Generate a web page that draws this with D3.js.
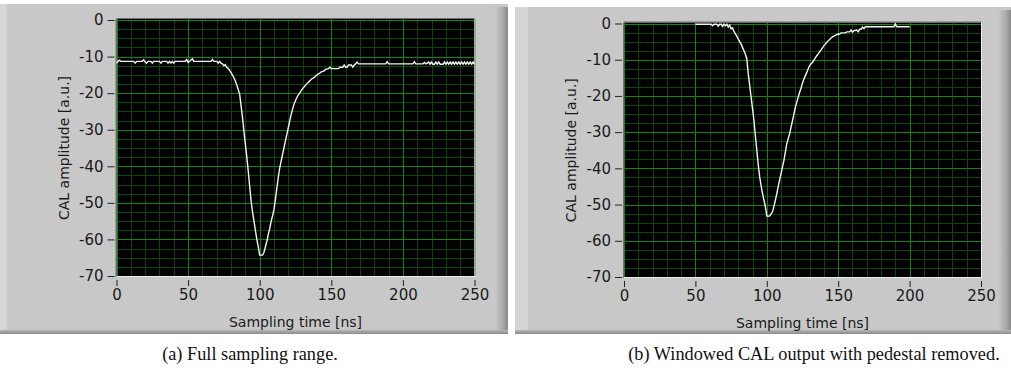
<!DOCTYPE html>
<html><head><meta charset="utf-8">
<script src="https://cdn.jsdelivr.net/npm/d3@7"></script>
<style>body{margin:0;background:#fff}svg{display:block}</style>
</head><body>
<script>
// ---- data ----
const xTicks = [0, 50, 100, 150, 200, 250];
const yTicks = [0, -10, -20, -30, -40, -50, -60, -70];
const xLabel = "Sampling time [ns]";
const yLabel = "CAL amplitude [a.u.]";
const captionA = "(a) Full sampling range.";
const captionB = "(b) Windowed CAL output with pedestal removed.";

// (a) full sampling range: time [ns] and amplitude
const timeA = [0,1,2,3,10,12,13,14,18,19,20,21,22,24,25,26,30,31,32,35,36,37,38,39,40,41,48,49,50,51,53,54,66,67,68,70,71,72,73,74,75,76,77,78,79,80,82,83,84,85,86,87,88,89,90,91,92,93,94,95,96,97,98,99,100,102,103,104,105,106,107,108,109,110,111,112,113,114,115,116,117,118,119,120,121,122,123,124,125,126,127,128,129,130,131,132,133,134,136,138,140,142,143,145,146,148,149,150,155,156,158,159,160,161,162,164,165,166,167,168,169,188,189,190,207,208,209,214,215,216,218,219,220,221,222,223,224,225,226,228,229,230,231,232,233,234,235,236,237,238,239,240,241,242,243,244,245,246,247,248,249,250];
const ampA = [-11.8,-11.3,-11.0,-11.3,-11.3,-11.3,-11.8,-11.3,-11.3,-10.9,-11.5,-11.8,-11.3,-11.3,-11.8,-11.3,-11.3,-11.8,-11.3,-11.3,-11.8,-11.3,-11.8,-11.3,-11.8,-11.3,-11.3,-10.8,-11.6,-11.3,-10.6,-11.3,-11.3,-10.8,-11.3,-11.3,-11.8,-11.3,-11.8,-12.0,-12.5,-12.2,-13.0,-13.2,-13.8,-14.4,-15.8,-16.7,-17.8,-19.0,-20.3,-23.5,-26.7,-30.5,-34.0,-37.5,-41.3,-45.5,-49.5,-52.5,-55.0,-57.5,-60.0,-62.0,-64.3,-64.3,-63.5,-62.0,-60.5,-58.6,-57.0,-55.0,-53.5,-51.8,-49.0,-45.9,-43.0,-40.4,-38.5,-36.7,-34.8,-33.0,-31.2,-29.4,-27.5,-25.8,-24.3,-23.0,-22.0,-21.2,-20.5,-19.9,-19.3,-18.7,-18.3,-17.8,-17.4,-17.0,-16.2,-15.7,-15.0,-14.5,-14.2,-13.9,-13.5,-13.3,-12.9,-13.3,-13.3,-12.9,-12.9,-12.3,-12.9,-12.9,-12.3,-12.3,-12.9,-12.3,-12.0,-11.5,-12.0,-12.0,-11.4,-12.0,-12.0,-11.4,-12.0,-12.0,-11.6,-12.0,-11.5,-12.1,-11.5,-12.1,-12.1,-11.5,-12.1,-11.5,-12.1,-12.1,-11.5,-12.1,-11.5,-12.1,-11.5,-12.1,-11.5,-12.1,-11.5,-12.1,-11.5,-12.1,-11.5,-12.1,-11.5,-12.1,-11.5,-12.1,-11.5,-12.1,-11.5,-12.1,-11.6,-12.0];

// (b) windowed output, pedestal removed
const timeB = [50,61,62,63,65,66,67,68,69,70,71,72,73,74,75,76,77,78,79,80,81,82,83,84,85,86,87,88,89,90,91,92,93,94,95,96,97,98,99,100,102,103,104,105,106,107,108,109,110,111,112,113,114,115,116,117,118,119,120,121,122,123,124,125,126,127,128,129,130,131,132,133,134,135,136,137,138,139,140,141,142,143,144,145,146,148,150,151,152,155,156,158,159,160,161,163,164,165,166,167,168,169,170,189,190,191,200];
const ampB = [-0.2,-0.2,-0.6,-0.2,-0.2,-0.7,-0.2,-0.2,-0.8,-0.2,-0.6,-0.2,-1.0,-0.4,-1.5,-1.2,-2.2,-2.9,-3.5,-4.3,-5.0,-5.7,-6.6,-7.5,-8.5,-9.8,-13.9,-17.0,-20.3,-23.5,-26.8,-31.0,-35.0,-39.0,-42.3,-44.8,-46.9,-48.8,-50.6,-53.2,-53.2,-52.6,-52.0,-50.5,-48.8,-47.0,-45.0,-43.2,-41.4,-39.6,-37.8,-35.5,-33.2,-31.8,-30.4,-28.6,-26.8,-25.0,-23.1,-21.7,-20.3,-19.0,-17.8,-16.5,-15.3,-14.4,-13.5,-12.5,-11.6,-11.1,-10.7,-10.1,-9.5,-8.9,-8.4,-7.8,-7.3,-6.7,-6.1,-5.7,-5.2,-4.8,-4.4,-4.0,-3.7,-3.3,-2.9,-2.9,-2.6,-2.6,-2.3,-2.3,-1.8,-2.4,-2.0,-1.8,-2.3,-1.6,-1.6,-1.0,-1.4,-0.9,-0.9,-0.9,-0.1,-0.9,-0.9];

// ---- drawing ----
const W = 1011, H = 380;
const svg = d3.select("body").append("svg").attr("width", W).attr("height", H);
const defs = svg.append("defs");
const g1 = defs.append("linearGradient").attr("id","rightBevel").attr("x1","0").attr("x2","1");
g1.append("stop").attr("offset","0").attr("stop-color","#c8c8c8");
g1.append("stop").attr("offset","0.6").attr("stop-color","#aaaaaa");
g1.append("stop").attr("offset","1").attr("stop-color","#888888");
const g2 = defs.append("linearGradient").attr("id","botBevel").attr("x1","0").attr("x2","0").attr("y1","0").attr("y2","1");
g2.append("stop").attr("offset","0").attr("stop-color","#b4b4b4");
g2.append("stop").attr("offset","1").attr("stop-color","#8c8c8c");

const sans = "'DejaVu Sans', Verdana, sans-serif";

function panel(cfg, times, amps) {
  const {px0, py0, px1, py1, left, top, right, bottom, lightW} = cfg;
  svg.append("rect").attr("x", px0).attr("y", py0).attr("width", px1 - px0).attr("height", py1 - py0).attr("fill", "#c8c8c8");
  svg.append("rect").attr("x", px0).attr("y", py0).attr("width", lightW).attr("height", py1 - py0).attr("fill", "#d6d6d6");
  svg.append("rect").attr("x", px1 - 13).attr("y", py0 + 3).attr("width", 13).attr("height", py1 - py0 - 3).attr("fill", "url(#rightBevel)");
  svg.append("rect").attr("x", px0).attr("y", py1 - 4).attr("width", px1 - px0).attr("height", 4).attr("fill", "url(#botBevel)");

  const x = d3.scaleLinear().domain([0, 250]).range([left, right]);
  const y = d3.scaleLinear().domain([-70, 0]).range([bottom, top]);

  svg.append("rect").attr("x", left).attr("y", top - 1).attr("width", right - left).attr("height", bottom - top + 1).attr("fill", "#000");

  const minorC = "#0a480a", majorC = "#0f870f";
  const grid = svg.append("g");
  const minorX = d3.range(0, 251, 10).filter(v => v % 50 !== 0);
  const minorY = d3.range(-70, 0.1, 2.5).filter(v => Math.abs(v % 10) > 0.01);
  grid.selectAll("line.mx").data(minorX).join("line")
    .attr("x1", d => Math.round(x(d)) + 0.5).attr("x2", d => Math.round(x(d)) + 0.5)
    .attr("y1", top - 1).attr("y2", bottom).attr("stroke", minorC);
  grid.selectAll("line.my").data(minorY).join("line")
    .attr("y1", d => Math.round(y(d)) + 0.5).attr("y2", d => Math.round(y(d)) + 0.5)
    .attr("x1", left).attr("x2", right).attr("stroke", minorC);
  grid.selectAll("line.Mx").data(xTicks).join("line")
    .attr("x1", d => Math.round(x(d)) + 0.5).attr("x2", d => Math.round(x(d)) + 0.5)
    .attr("y1", top - 1).attr("y2", bottom).attr("stroke", majorC);
  grid.selectAll("line.My").data(yTicks).join("line")
    .attr("y1", d => Math.round(y(d)) + 0.5).attr("y2", d => Math.round(y(d)) + 0.5)
    .attr("x1", left).attr("x2", right).attr("stroke", majorC);

  svg.append("line").attr("x1", right + 0.5).attr("x2", right + 0.5).attr("y1", top - 1).attr("y2", bottom + 1).attr("stroke", "#ececec");
  svg.append("line").attr("x1", left).attr("x2", right + 1).attr("y1", bottom + 0.5).attr("y2", bottom + 0.5).attr("stroke", "#ececec");
  svg.append("line").attr("x1", left - 0.5).attr("x2", left - 0.5).attr("y1", top - 1).attr("y2", bottom + 1).attr("stroke", "#707070");
  svg.append("line").attr("x1", left).attr("x2", right).attr("y1", top - 1.5).attr("y2", top - 1.5).attr("stroke", "#707070");

  const pts = times.map((t, i) => [t, amps[i]]);
  const line = d3.line().x(d => x(d[0])).y(d => y(d[1]));
  svg.append("path").datum(pts).attr("d", line).attr("fill", "none")
    .attr("stroke", "#f4f4f4").attr("stroke-width", 1.4).attr("stroke-linejoin", "miter");

  const fmt = d => String(d);
  const ya = svg.append("g").attr("transform", `translate(${left - 2},0)`)
    .call(d3.axisLeft(y).tickValues(yTicks).tickSize(7).tickPadding(4).tickFormat(fmt));
  const xa = svg.append("g").attr("transform", `translate(0,${bottom + 4})`)
    .call(d3.axisBottom(x).tickValues(xTicks).tickSize(6).tickPadding(3).tickFormat(fmt));
  [ya, xa].forEach(a => {
    a.select(".domain").remove();
    a.selectAll(".tick line").attr("stroke", "#222");
    a.selectAll(".tick text").attr("fill", "#1a1a1a").style("font-family", sans).style("font-size", "15px");
  });

  svg.append("text").attr("x", (left + right) / 2).attr("y", bottom + 51)
    .attr("text-anchor", "middle").attr("fill", "#1a1a1a")
    .style("font-family", sans).style("font-size", "14px").text(xLabel);
  svg.append("text").attr("transform", `translate(${left - 48},${(top + bottom) / 2}) rotate(-90)`)
    .attr("text-anchor", "middle").attr("fill", "#1a1a1a")
    .style("font-family", sans).style("font-size", "14px").text(yLabel);
}

panel({px0: 0, py0: 4, px1: 508, py1: 334, left: 116.5, top: 20, right: 474.5, bottom: 276, lightW: 7}, timeA, ampA);
panel({px0: 515, py0: 7, px1: 1011, py1: 334, left: 624, top: 23.5, right: 981, bottom: 277, lightW: 13}, timeB, ampB);

const serif = "'Liberation Serif', 'Times New Roman', serif";
svg.append("text").attr("x", 250).attr("y", 360).attr("text-anchor", "middle")
  .style("font-family", serif).style("font-size", "18.3px").attr("fill", "#111").text(captionA);
svg.append("text").attr("x", 814).attr("y", 360).attr("text-anchor", "middle")
  .style("font-family", serif).style("font-size", "18.3px").attr("fill", "#111").text(captionB);
</script>
</body></html>
